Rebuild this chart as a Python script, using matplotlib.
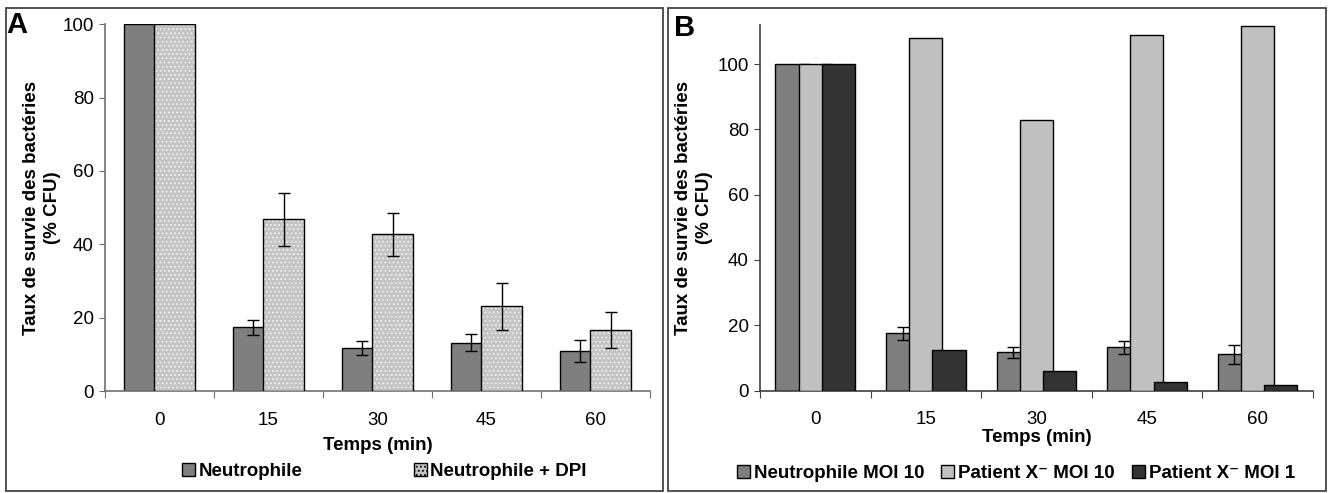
import numpy as np
import matplotlib
matplotlib.use('Agg')
import matplotlib.pyplot as plt
from matplotlib.patches import Patch, Rectangle

plt.rcParams['font.family'] = ['Liberation Sans', 'DejaVu Sans']
plt.rcParams['hatch.linewidth'] = 0.8

# Data
times = ['0', '15', '30', '45', '60']

# panel A
neutro = [100, 17.4, 11.7, 13.2, 10.9]
neutro_err = [0, 2.0, 1.8, 2.3, 2.9]
dpi = [100, 46.8, 42.7, 23.1, 16.6]
dpi_err = [0, 7.2, 5.9, 6.4, 5.0]

# panel B
neutro_moi10 = [100, 17.5, 11.7, 13.2, 11.1]
neutro_moi10_err = [0, 2.0, 1.6, 2.1, 2.9]
patient_moi10 = [100, 108.1, 82.9, 108.9, 111.7]
patient_moi1 = [100, 12.5, 6.1, 2.5, 1.7]

W, H = 1329, 493
fig = plt.figure(figsize=(W / 100, H / 100), dpi=100)

# panel frames
for x0, x1 in [(6, 663), (668, 1326)]:
    fig.patches.append(Rectangle((x0 / W, 1 - 491 / H), (x1 - x0) / W, (491 - 7.5) / H,
                                 transform=fig.transFigure, fill=False,
                                 edgecolor='#444444', lw=1.3))


def style_axes(ax, ymax, yticks, spine_col):
    ax.set_xlim(-0.5, 4.5)
    ax.set_ylim(0, ymax)
    ax.spines['top'].set_visible(False)
    ax.spines['right'].set_visible(False)
    for s in ['left', 'bottom']:
        ax.spines[s].set_color(spine_col)
        ax.spines[s].set_linewidth(1.2)
    ax.set_yticks(yticks)
    ax.tick_params(axis='y', direction='out', length=4, color=spine_col, labelsize=13.5, pad=4)
    # ticks between categories, labels at centres
    ax.set_xticks(np.arange(-0.5, 5, 1))
    ax.set_xticklabels([])
    ax.tick_params(axis='x', direction='out', length=5, color=spine_col)
    ax.set_xticks(np.arange(5), minor=True)
    ax.set_xticklabels(times, minor=True, fontsize=13.5)
    ax.tick_params(axis='x', which='minor', length=0, pad=15)


x = np.arange(len(times))
ylab = 'Taux de survie des bactéries\n(% CFU)'

# ---------------- Panel A ----------------
axA = fig.add_axes([105 / W, 1 - 391 / H, 545 / W, (391 - 24.3) / H])
bw = 0.38
axA.bar(x - 0.14, neutro, bw, color='#7f7f7f', edgecolor='black', lw=1, zorder=2)
axA.errorbar(x[1:] - 0.14, neutro[1:], yerr=neutro_err[1:], fmt='none',
             ecolor='black', elinewidth=1, capsize=4, zorder=5)
axA.bar(x + 0.14, dpi, bw, color='#c4c4c4', edgecolor='#f0f0f0', hatch='....', lw=0, zorder=3)
axA.bar(x + 0.14, dpi, bw, fill=False, edgecolor='black', lw=1, zorder=4)
axA.errorbar(x[1:] + 0.14, dpi[1:], yerr=dpi_err[1:], fmt='none',
             ecolor='black', elinewidth=1, capsize=4, zorder=5)
style_axes(axA, 100, [0, 20, 40, 60, 80, 100], '#707070')
axA.set_ylabel(ylab, fontsize=13.5, fontweight='bold', linespacing=1.25)
axA.yaxis.set_label_coords((42 - 105) / 545, 0.5)
axA.yaxis.label.set_va('center')
axA.set_xlabel('Temps (min)', fontsize=13.5, fontweight='bold')
axA.xaxis.set_label_coords(0.5, (391 - 445.5) / 366.7)
axA.xaxis.label.set_va('center')

handlesA = [Patch(facecolor='#7f7f7f', edgecolor='black', lw=1),
            Patch(facecolor='#c4c4c4', edgecolor='black', lw=1, hatch='....')]
axA.legend(handlesA, ['Neutrophile', 'Neutrophile + DPI'], ncol=2, frameon=False,
           loc='center', bbox_to_anchor=(0.513, -0.22),
           prop={'weight': 'bold', 'size': 13.5},
           handlelength=0.7, handleheight=0.7, handletextpad=0.2, columnspacing=5.9)

fig.text(6 / W, 1 - 25 / H, 'A', fontsize=21, fontweight='bold', va='center', ha='left')

# ---------------- Panel B ----------------
axB = fig.add_axes([760 / W, 1 - 390.5 / H, 552.7 / W, (390.5 - 25) / H])
bw2 = 0.30
axB.bar(x - 0.21, neutro_moi10, bw2, color='#7f7f7f', edgecolor='black', lw=1, zorder=2)
axB.bar(x, patient_moi10, bw2, color='#c0c0c0', edgecolor='black', lw=1, zorder=3)
axB.bar(x + 0.21, patient_moi1, bw2, color='#333333', edgecolor='black', lw=1, zorder=4)
axB.errorbar(x[1:] - 0.21, neutro_moi10[1:], yerr=neutro_moi10_err[1:], fmt='none',
             ecolor='black', elinewidth=1, capsize=4, zorder=5)
style_axes(axB, 112, [0, 20, 40, 60, 80, 100], '#404040')
axB.set_ylabel(ylab, fontsize=13.5, fontweight='bold', linespacing=1.25)
axB.yaxis.set_label_coords((694 - 760) / 552.7, 0.5)
axB.yaxis.label.set_va('center')
axB.set_xlabel('Temps (min)', fontsize=13.5, fontweight='bold')
axB.xaxis.set_label_coords(0.5, (390.5 - 437.5) / 365.5)
axB.xaxis.label.set_va('center')

handlesB = [Patch(facecolor='#7f7f7f', edgecolor='black', lw=1),
            Patch(facecolor='#c0c0c0', edgecolor='black', lw=1),
            Patch(facecolor='#333333', edgecolor='black', lw=1)]
axB.legend(handlesB, ['Neutrophile MOI 10', 'Patient X⁻ MOI 10', 'Patient X⁻ MOI 1'],
           ncol=3, frameon=False, loc='center', bbox_to_anchor=(0.463, -0.226),
           prop={'weight': 'bold', 'size': 13.5},
           handlelength=0.7, handleheight=0.7, handletextpad=0.2, columnspacing=0.9)

fig.text(674 / W, 1 - 28 / H, 'B', fontsize=21, fontweight='bold', va='center', ha='left')

fig.savefig('out.png', dpi=100)
